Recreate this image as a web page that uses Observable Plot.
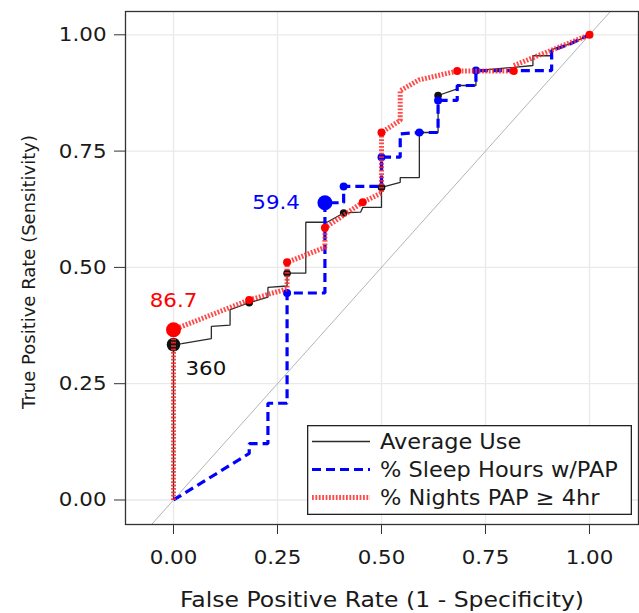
<!DOCTYPE html>
<html><head><meta charset="utf-8">
<script src="https://cdn.jsdelivr.net/npm/d3@7"></script>
<script src="https://cdn.jsdelivr.net/npm/@observablehq/plot@0.6"></script>
<style>
body{margin:0;background:#fff;}
#wrap{position:relative;width:639px;height:613px;font-family:"DejaVu Sans",sans-serif;}
</style></head><body><div id="wrap"></div>
<script>
// ---- data ----
const avgFpr = [0, 0, 0.02, 0.091, 0.091, 0.136, 0.136, 0.182, 0.227, 0.227, 0.273, 0.273, 0.318, 0.318, 0.369, 0.409, 0.45, 0.455, 0.5, 0.5, 0.545, 0.545, 0.591, 0.591, 0.636, 0.636, 0.682, 0.682, 0.727, 0.727, 0.818, 0.864, 0.864, 0.909, 0.909, 0.955, 1];
const avgTpr = [0, 0.334, 0.336, 0.347, 0.373, 0.376, 0.409, 0.424, 0.436, 0.457, 0.46, 0.4875, 0.4875, 0.597, 0.597, 0.617, 0.619, 0.629, 0.629, 0.672, 0.683, 0.693, 0.693, 0.79, 0.79, 0.8695, 0.884, 0.891, 0.891, 0.923, 0.93, 0.934, 0.955, 0.955, 0.968, 0.981, 1];
const avgPtFpr = [0.182, 0.273, 0.409, 0.5, 0.636];
const avgPtTpr = [0.424, 0.4875, 0.617, 0.672, 0.8695];

const slpFpr = [0, 0.182, 0.182, 0.227, 0.227, 0.273, 0.273, 0.364, 0.364, 0.409, 0.409, 0.5, 0.5, 0.545, 0.545, 0.591, 0.636, 0.636, 0.682, 0.682, 0.727, 0.727, 0.909, 0.909, 0.955, 1];
const slpTpr = [0, 0.1, 0.121, 0.121, 0.208, 0.208, 0.445, 0.445, 0.639, 0.639, 0.674, 0.674, 0.737, 0.737, 0.787, 0.79, 0.79, 0.859, 0.859, 0.891, 0.891, 0.923, 0.923, 0.966, 0.981, 1];
const slpPtFpr = [0.273, 0.409, 0.5, 0.591, 0.636, 0.727];
const slpPtTpr = [0.445, 0.674, 0.737, 0.79, 0.859, 0.923];

const ngtFpr = [0, 0, 0.182, 0.273, 0.273, 0.364, 0.364, 0.455, 0.5, 0.5, 0.545, 0.545, 0.59, 0.682, 0.818, 0.818, 1];
const ngtTpr = [0, 0.366, 0.43, 0.454, 0.511, 0.543, 0.585, 0.64, 0.66, 0.79, 0.816, 0.88, 0.903, 0.922, 0.922, 0.934, 1];
const ngtPtFpr = [0.182, 0.273, 0.364, 0.455, 0.5, 0.682, 0.818, 1];
const ngtPtTpr = [0.43, 0.511, 0.585, 0.64, 0.79, 0.922, 0.922, 1];

// optimal cut points (big markers) and their labels
const cutLabels = ["360", "59.4", "86.7"];
const cutFpr = [0, 0.364, 0];
const cutTpr = [0.334, 0.639, 0.366];

const tickValues = [0, 0.25, 0.5, 0.75, 1];
const seriesNames = ["Average Use", "% Sleep Hours w/PAP", "% Nights PAP \u2265 4hr"];
const xTitle = "False Positive Rate (1 - Specificity)";
const yTitle = "True Positive Rate (Sensitivity)";

// ---- styles ----
const lineStyles = [
  {stroke: "#2b2b2b", strokeWidth: 1.3, strokeLinecap: "butt", strokeLinejoin: "miter"},
  {stroke: "#0000ff", strokeWidth: 3.2, strokeDasharray: "9,5", strokeLinecap: "butt", strokeLinejoin: "miter"},
  {stroke: "#ff2a2a", strokeWidth: 5, strokeDasharray: "1.8,1.6", strokeOpacity: 0.85, strokeLinecap: "butt", strokeLinejoin: "miter"}
];
const pointColors = ["#111111", "#0000ff", "#ff0000"];

const zip = (a, b) => a.map((v, i) => ({x: v, y: b[i]}));
const avg = zip(avgFpr, avgTpr), slp = zip(slpFpr, slpTpr), ngt = zip(ngtFpr, ngtTpr);
const avgPts = zip(avgPtFpr, avgPtTpr), slpPts = zip(slpPtFpr, slpPtTpr), ngtPts = zip(ngtPtFpr, ngtPtTpr);
const cuts = cutLabels.map((t, i) => ({label: t, x: cutFpr[i], y: cutTpr[i]}));

const chart = Plot.plot({
  width: 639, height: 613,
  marginLeft: 125, marginRight: 1, marginTop: 11, marginBottom: 89,
  x: {domain: [-0.1154, 1.1178]},
  y: {domain: [-0.0527, 1.0501]},
  style: {fontFamily: "DejaVu Sans", fontSize: "20px", background: "white", color: "#1a1a1a"},
  marks: [
    Plot.gridX(tickValues, {stroke: "#e9e9e9", strokeOpacity: 1, strokeWidth: 1.3}),
    Plot.gridY(tickValues, {stroke: "#e9e9e9", strokeOpacity: 1, strokeWidth: 1.3}),
    Plot.line([-0.2, 1.2], {x: d => d, y: d => d, stroke: "#b4b4b4", strokeWidth: 1, clip: true}),
    Plot.line(avg, {x: "x", y: "y", ...lineStyles[0]}),
    Plot.dot(avgPts, {x: "x", y: "y", r: 3.8, fill: pointColors[0]}),
    Plot.dot([cuts[0]], {x: "x", y: "y", r: 6.8, fill: pointColors[0]}),
    Plot.line(slp, {x: "x", y: "y", ...lineStyles[1]}),
    Plot.dot(slpPts, {x: "x", y: "y", r: 4, fill: pointColors[1]}),
    Plot.dot([cuts[1]], {x: "x", y: "y", r: 7.5, fill: pointColors[1]}),
    Plot.line(ngt, {x: "x", y: "y", ...lineStyles[2]}),
    Plot.dot(ngtPts, {x: "x", y: "y", r: 4, fill: pointColors[2]}),
    Plot.dot([cuts[2]], {x: "x", y: "y", r: 7.5, fill: pointColors[2]}),
    Plot.text([cuts[0]], {x: "x", y: "y", text: "label", textAnchor: "start", dx: 12, dy: 24, fontSize: 20, fill: "#111"}),
    Plot.text([cuts[1]], {x: "x", y: "y", text: "label", textAnchor: "end", dx: -25, dy: 0, fontSize: 20, fill: pointColors[1]}),
    Plot.text([cuts[2]], {x: "x", y: "y", text: "label", textAnchor: "middle", dx: 0, dy: -29, fontSize: 20, fill: pointColors[2]}),
    Plot.frame({stroke: "#333", strokeWidth: 1.3}),
    Plot.axisX(tickValues, {tickSize: 10, tickPadding: 15, tickFormat: d => d.toFixed(2), label: null, fontSize: 20, stroke: "#333"}),
    Plot.axisY(tickValues, {tickSize: 11, tickPadding: 8, tickFormat: d => d.toFixed(2), label: null, fontSize: 20, stroke: "#333"}),
    Plot.text([xTitle], {text: d => d, frameAnchor: "bottom", lineAnchor: "middle", dy: 75, fontSize: 22}),
    Plot.text([yTitle], {text: d => d, frameAnchor: "left", textAnchor: "middle", lineAnchor: "middle", dx: -96, dy: 4, rotate: -90, fontSize: 18})
  ]
});

// slight horizontal widening of glyphs as in the reference
chart.querySelectorAll("text").forEach(t => {
  const tr = t.getAttribute("transform");
  if (tr && !tr.includes("rotate")) t.setAttribute("transform", tr + " scale(1.07,1)");
});

const wrap = document.getElementById("wrap");
wrap.appendChild(chart);

// legend inside the panel (bottom right)
const leg = d3.create("svg")
  .attr("width", 325).attr("height", 90)
  .style("position", "absolute").style("left", "307px").style("top", "425px")
  .style("font-family", "DejaVu Sans").style("font-size", "21px");
leg.append("rect").attr("x", 0.65).attr("y", 0.65).attr("width", 323.7).attr("height", 88.7)
  .attr("fill", "white").attr("stroke", "#222").attr("stroke-width", 1.3);
seriesNames.forEach((name, i) => {
  const y = 16.5 + 28 * i;
  const s = lineStyles[i];
  leg.append("line").attr("x1", 5).attr("x2", 63).attr("y1", y).attr("y2", y)
    .attr("stroke", s.stroke).attr("stroke-width", s.strokeWidth)
    .attr("stroke-dasharray", s.strokeDasharray || null)
    .attr("stroke-opacity", s.strokeOpacity || 1);
  leg.append("text").attr("transform", `translate(73,${y}) scale(1.07,1)`).attr("dy", "0.35em")
    .attr("fill", "#1a1a1a").text(name);
});
wrap.appendChild(leg.node());
</script>
</body></html>
